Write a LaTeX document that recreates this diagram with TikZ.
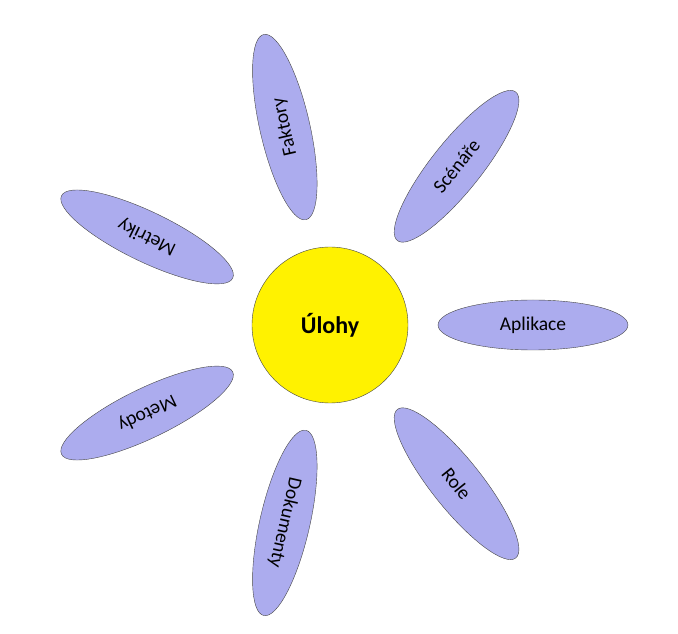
\documentclass[tikz,border=0pt]{standalone}
\usepackage{fontspec}
\setmainfont{Carlito}
\usetikzlibrary{shapes.geometric}
\definecolor{petalblue}{RGB}{172,172,238}
\definecolor{edgegray}{RGB}{70,70,70}

\begin{document}
\begin{tikzpicture}[x=1pt, y=1pt]
\useasboundingbox (-330,-309) rectangle (348,325);

\tikzstyle{ulohanode}=[shape=circle, draw=edgegray, fill=yellow, minimum
size=156pt, inner sep=0pt, font=\fontsize{24}{28}\selectfont\bfseries]
\tikzstyle{petal}=[shape=ellipse, draw=edgegray, fill=petalblue, minimum
width=190pt, minimum height=50pt, inner sep=0pt, font=\fontsize{19.5}{23}\selectfont]

\node[ulohanode] (uloha) at (0,0) {Úlohy};

\node[petal, rotate=0] (aplikace) at (0:203) {Aplikace};
\node[petal, rotate=51.43] (scenare) at (51.43:203) {Scénáře};
\node[petal, rotate=102.86] (faktory) at (102.86:203) {Faktory};
\node[petal, rotate=154.29] (metriky) at (154.29:203) {Metriky};
\node[petal, rotate=205.71] (metody) at (205.71:203) {Metody};
\node[petal, rotate=257.14] (dokumenty) at (257.14:203) {Dokumenty};
\node[petal, rotate=308.57] (role) at (308.57:203) {Role};
\end{tikzpicture}
\end{document}
